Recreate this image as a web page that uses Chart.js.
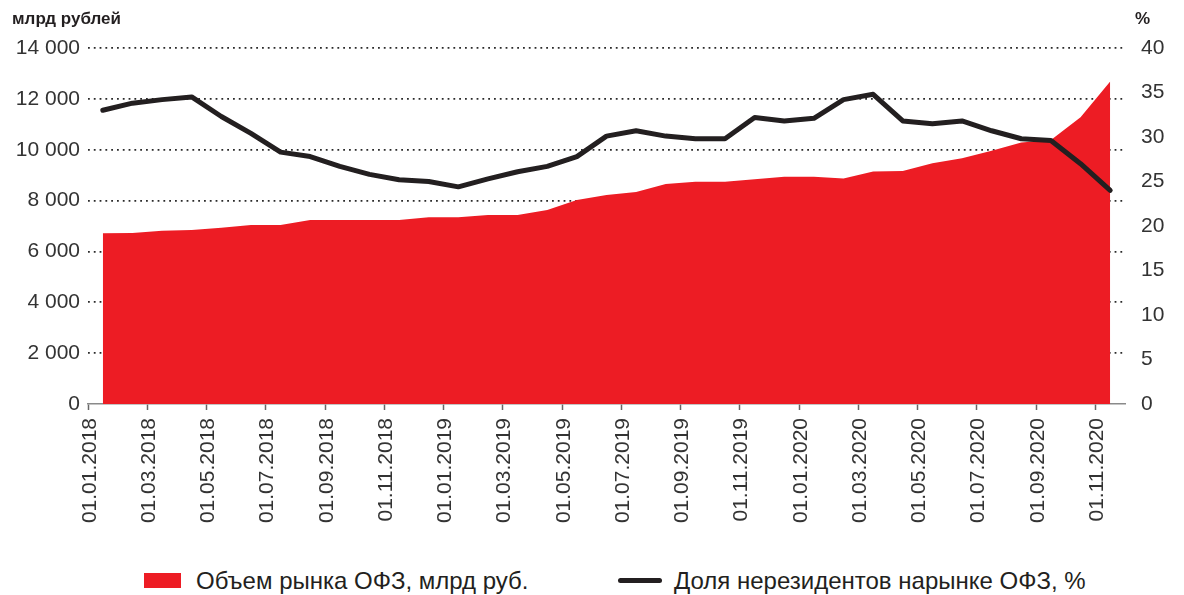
<!DOCTYPE html>
<html lang="ru">
<head>
<meta charset="UTF-8">
<title>Объем рынка ОФЗ и доля нерезидентов</title>
<script src="https://cdn.jsdelivr.net/npm/chart.js@4.4.1/dist/chart.umd.min.js"></script>
<style>
  html, body { margin: 0; padding: 0; background: #fff; }
  #wrap { position: relative; width: 1184px; height: 595px; overflow: hidden; }
  #box { position: absolute; left: 0; top: 0; width: 1184px; height: 555px; }
  .legend { position: absolute; left: 0; top: 565px; width: 1184px; height: 32px;
            font-family: "Liberation Sans", Arial, sans-serif; font-size: 24px; color: #231f20; }
  .item { position: absolute; top: 0; height: 32px; line-height: 32px; white-space: nowrap; }
  .swatch { position: absolute; }
</style>
</head>
<body>
<div id="wrap">
  <div id="box"><canvas id="chart"></canvas></div>
  <div class="legend">
    <span class="swatch" style="left:144px; top:8px; width:37px; height:15px; background:#ed1c24;"></span>
    <span class="item" style="left:196px;" id="lg1"></span>
    <span class="swatch" style="left:618px; top:13px; width:44px; height:5px; border-radius:3px; background:#231f20;"></span>
    <span class="item" style="left:674px;" id="lg2"></span>
  </div>
</div>
<script>
// monthly points, Jan 2018 - Nov 2020
const months = [
  '01.01.2018','01.02.2018','01.03.2018','01.04.2018','01.05.2018','01.06.2018',
  '01.07.2018','01.08.2018','01.09.2018','01.10.2018','01.11.2018','01.12.2018',
  '01.01.2019','01.02.2019','01.03.2019','01.04.2019','01.05.2019','01.06.2019',
  '01.07.2019','01.08.2019','01.09.2019','01.10.2019','01.11.2019','01.12.2019',
  '01.01.2020','01.02.2020','01.03.2020','01.04.2020','01.05.2020','01.06.2020',
  '01.07.2020','01.08.2020','01.09.2020','01.10.2020','01.11.2020'
];

// объем рынка ОФЗ, млрд руб.
const volume = [
  6710, 6720, 6810, 6840, 6930, 7040, 7040, 7240, 7240, 7240, 7240, 7340,
  7340, 7430, 7430, 7630, 8020, 8220, 8340, 8650, 8740, 8740, 8840, 8940,
  8940, 8870, 9140, 9160, 9470, 9660, 9960, 10280, 10380, 11280, 12680
];

// доля нерезидентов, %
const share = [
  33.0, 33.8, 34.2, 34.5, 32.3, 30.4, 28.3, 27.8, 26.7, 25.8, 25.2, 25.0,
  24.4, 25.3, 26.1, 26.7, 27.8, 30.1, 30.7, 30.1, 29.8, 29.8, 32.2, 31.8,
  32.1, 34.2, 34.8, 31.8, 31.5, 31.8, 30.7, 29.8, 29.6, 27.0, 24.0
];

const volumeLabel = 'Объем рынка ОФЗ, млрд руб.';
const shareLabel = 'Доля нерезидентов нарынке ОФЗ, %';
const leftTitle = 'млрд рублей';
const rightTitle = '%';

document.getElementById('lg1').textContent = volumeLabel;
document.getElementById('lg2').textContent = shareLabel;

const FONT = '"Liberation Sans", Arial, sans-serif';
const textColor = '#333333';

function spaced(v) {
  return String(v).replace(/\B(?=(\d{3})+(?!\d))/g, ' ');
}

// unit titles above the two value axes
const axisTitles = {
  id: 'axisTitles',
  afterDraw(chart) {
    const ctx = chart.ctx;
    ctx.save();
    ctx.font = 'bold 17px ' + FONT;
    ctx.fillStyle = '#231f20';
    ctx.textAlign = 'left';
    ctx.textBaseline = 'alphabetic';
    ctx.fillText(leftTitle, 12, 24);
    ctx.fillText(rightTitle, chart.scales.y2.left + 10, 24);
    ctx.restore();
  }
};

const ctx = document.getElementById('chart').getContext('2d');
const chart = new Chart(ctx, {
  type: 'line',
  data: {
    labels: months,
    datasets: [
      {
        label: shareLabel,
        data: share,
        yAxisID: 'y2',
        borderColor: '#231f20',
        borderWidth: 5,
        borderCapStyle: 'round',
        borderJoinStyle: 'round',
        pointRadius: 0,
        tension: 0,
        fill: false,
        order: 1
      },
      {
        label: volumeLabel,
        data: volume,
        yAxisID: 'y',
        backgroundColor: '#ed1c24',
        borderWidth: 0,
        pointRadius: 0,
        tension: 0,
        fill: 'origin',
        order: 2
      }
    ]
  },
  options: {
    responsive: true,
    maintainAspectRatio: false,
    animation: false,
    layout: { padding: { top: 48, left: 0, right: 0, bottom: 0 } },
    plugins: {
      legend: { display: false },
      tooltip: { enabled: false }
    },
    scales: {
      x: {
        type: 'category',
        offset: true,
        border: { display: true, color: '#8a8a8a', width: 1.5 },
        grid: {
          offset: true,
          drawOnChartArea: false,
          tickLength: 6,
          tickWidth: 1.5,
          tickColor: c => (c.index % 2 === 0 ? '#666' : 'rgba(0,0,0,0)')
        },
        ticks: {
          autoSkip: false,
          maxRotation: 90,
          minRotation: 90,
          padding: 8,
          labelOffset: -13,
          color: textColor,
          font: { family: FONT, size: 21 },
          callback: (v, i) => (i % 2 === 0 ? months[i] : '')
        },
        afterFit: s => { s.height = 151; }
      },
      y: {
        position: 'left',
        min: 0,
        max: 14000,
        border: { display: false, dash: [1.8, 4] },
        grid: {
          drawTicks: false,
          lineWidth: 1.8,
          color: c => (c.tick && c.tick.value === 0 ? 'rgba(0,0,0,0)' : '#2a2a2a')
        },
        ticks: {
          stepSize: 2000,
          padding: 8,
          color: textColor,
          font: { family: FONT, size: 21 },
          callback: v => spaced(v)
        },
        afterFit: s => { s.width = 88; }
      },
      y2: {
        position: 'right',
        min: 0,
        max: 40,
        border: { display: false },
        grid: { drawOnChartArea: false, drawTicks: false },
        ticks: {
          stepSize: 5,
          padding: 16,
          color: textColor,
          font: { family: FONT, size: 21 }
        },
        afterFit: s => { s.width = 59; }
      }
    }
  },
  plugins: [axisTitles]
});
</script>
</body>
</html>
